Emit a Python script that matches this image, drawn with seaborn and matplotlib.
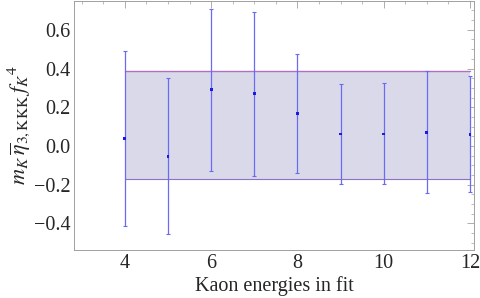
import matplotlib
matplotlib.use('Agg')
import matplotlib.pyplot as plt
import seaborn as sns
import pandas as pd
from matplotlib.ticker import MultipleLocator

# dados
energias = [4, 5, 6, 7, 8, 9, 10, 11, 12]
centro = [0.040, -0.053, 0.290, 0.270, 0.169, 0.062, 0.062, 0.071, 0.060]
topo = [0.490, 0.350, 0.710, 0.694, 0.476, 0.320, 0.327, 0.385, 0.359]
base = [-0.415, -0.454, -0.129, -0.153, -0.139, -0.196, -0.199, -0.245, -0.237]
banda_x = [4, 12]
banda_sup = 0.389
banda_inf = -0.173

df = pd.DataFrame({'energia': energias, 'valor': centro})
err_inf = [c - b for c, b in zip(centro, base)]
err_sup = [t - c for t, c in zip(topo, centro)]

sns.set_style('white')
plt.rcParams['font.family'] = ['Liberation Serif', 'DejaVu Serif']
plt.rcParams['mathtext.fontset'] = 'stix'

fig = plt.figure(figsize=(4.8, 2.98), dpi=100)
ax = fig.add_axes([0.155, 0.161, 0.833, 0.837])

# banda
ax.fill_between(banda_x, [banda_inf] * 2, [banda_sup] * 2, color='#d9d9ea', lw=0, zorder=1)
ax.plot(banda_x, [banda_sup] * 2, color='#b070c0', lw=1.0, zorder=2)
ax.plot(banda_x, [banda_inf] * 2, color='#9070c0', lw=0.8, zorder=2)

ax.errorbar(energias, centro, yerr=[err_inf, err_sup], fmt='none', ecolor='#6a6af5',
            elinewidth=0.9, capsize=1.5, capthick=0.8, zorder=3)
sns.scatterplot(data=df, x='energia', y='valor', ax=ax, color='#1a1ae0', s=4,
                marker='s', edgecolor='none', zorder=4)

ax.set_xlim(2.83, 12.1)
ax.set_ylim(-0.538, 0.751)
ax.set_xticks([4, 6, 8, 10, 12])
ax.set_yticks([-0.4, -0.2, 0.0, 0.2, 0.4, 0.6])
ax.set_yticklabels(['\u22120.4', '\u22120.2', '0.0', '0.2', '0.4', '0.6'])
ax.xaxis.set_minor_locator(MultipleLocator(0.5))
ax.yaxis.set_minor_locator(MultipleLocator(0.05))
ax.tick_params(which='both', direction='in', top=True, right=True, color='#a0a0a0',
               labelsize=14.5, pad=3)
ax.tick_params(which='major', length=5, width=0.6)
ax.tick_params(which='minor', length=2.5, width=0.5)
for s in ax.spines.values():
    s.set_color('#a0a0a0')
    s.set_linewidth(0.7)

ax.set_xlabel('Kaon energies in fit', fontsize=14.5, labelpad=2)
ax.set_ylabel(r'$m_K\,\overline{\eta}_{3,\mathrm{KKK}}\,f_K{}^4$', fontsize=16, labelpad=1)

plt.savefig('out.png', dpi=100)
